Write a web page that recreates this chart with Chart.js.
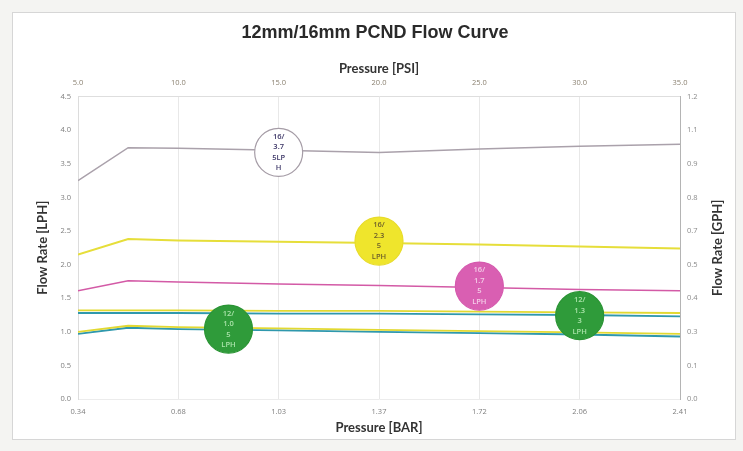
<!DOCTYPE html>
<html>
<head>
<meta charset="utf-8">
<script src="https://cdn.jsdelivr.net/npm/chart.js@4.4.1/dist/chart.umd.min.js"></script>
<style>
  body { margin: 0; background: #f4f4f2; }
  .frame { position: absolute; left: 12px; top: 12px; width: 724px; height: 428px; background: #fff; border: 1px solid #d6d6d6; box-sizing: border-box; }
  canvas { display: block; }
</style>
</head>
<body>
<div class="frame"><canvas id="flowChart" width="724" height="428"></canvas></div>
<script>
// pressure points (PSI) where the curves are measured
const PSI = [5, 7.5, 10, 15, 20, 25, 30, 35];
const BAR_TICKS = ['0.34', '0.68', '1.03', '1.37', '1.72', '2.06', '2.41'];
const GPH_TICKS = ['0.0', '0.1', '0.3', '0.4', '0.5', '0.7', '0.8', '0.9', '1.1', '1.2'];

// flow rate series (LPH)
const FLOW_16_375 = [3.25, 3.74, 3.73, 3.70, 3.67, 3.72, 3.76, 3.79];
const FLOW_16_235 = [2.15, 2.38, 2.36, 2.34, 2.32, 2.30, 2.27, 2.24];
const FLOW_16_175 = [1.61, 1.76, 1.74, 1.71, 1.69, 1.66, 1.63, 1.61];
const FLOW_13_Y   = [1.32, 1.32, 1.32, 1.31, 1.31, 1.30, 1.29, 1.28];
const FLOW_13_T   = [1.28, 1.28, 1.28, 1.27, 1.27, 1.26, 1.25, 1.23];
const FLOW_105_Y  = [1.00, 1.09, 1.07, 1.05, 1.03, 1.01, 0.99, 0.97];
const FLOW_105_T  = [0.97, 1.06, 1.04, 1.02, 1.00, 0.98, 0.96, 0.93];

// bubble labels on the curves
const TAG_PSI = [15, 20, 25, 30, 12.5];
const TAG_LPH = [3.67, 2.35, 1.68, 1.24, 1.04];
const TAG_TEXT = [
  ['16/', '3.7', '5LP', 'H'],
  ['16/', '2.3', '5', 'LPH'],
  ['16/', '1.7', '5', 'LPH'],
  ['12/', '1.3', '3', 'LPH'],
  ['12/', '1.0', '5', 'LPH']
];
const TAG_FILL = ['#ffffff', '#efe52c', '#d95fb2', '#2f9b3a', '#2f9b3a'];
const TAG_EDGE = ['#a59ca6', '#e8dc2a', '#d55aae', '#2a9434', '#2a9434'];
const TAG_INK  = ['#3b3566', '#6b5d2a', '#f4cde8', '#a9e3a9', '#a9e3a9'];

const pts = vals => PSI.map((p, i) => ({ x: p, y: vals[i] }));
const line = (label, vals, color, width) => ({
  type: 'line', label, data: pts(vals), borderColor: color, borderWidth: width,
  pointRadius: 0, tension: 0, fill: false, order: 1
});

const tagText = {
  id: 'tagText',
  afterDatasetsDraw(chart) {
    const meta = chart.getDatasetMeta(0);
    const ctx = chart.ctx;
    ctx.save();
    ctx.font = '600 7.5px "Open Sans", sans-serif';
    ctx.textAlign = 'center';
    ctx.textBaseline = 'middle';
    meta.data.forEach((pt, i) => {
      ctx.fillStyle = TAG_INK[i];
      const lines = TAG_TEXT[i];
      lines.forEach((t, k) => ctx.fillText(t, pt.x, pt.y + (k - (lines.length - 1) / 2) * 10.5));
    });
    // right axis title reads bottom-to-top like the left one
    const a = chart.chartArea;
    ctx.translate(a.right + 38, (a.top + a.bottom) / 2);
    ctx.rotate(-Math.PI / 2);
    ctx.font = 'bold 13px Lato, sans-serif';
    ctx.fillStyle = '#333';
    ctx.fillText('Flow Rate [GPH]', 0, 0);
    ctx.restore();
  }
};

const tickFont = { family: '"Open Sans", sans-serif', size: 7.5 };
const titleFont = { family: 'Lato, sans-serif', size: 13, weight: 'bold' };

new Chart(document.getElementById('flowChart'), {
  type: 'line',
  data: {
    datasets: [
      {
        type: 'scatter', label: 'tags',
        data: TAG_PSI.map((p, i) => ({ x: p, y: TAG_LPH[i] })),
        pointRadius: 24, pointBackgroundColor: TAG_FILL, pointBorderColor: TAG_EDGE,
        pointBorderWidth: 1.2, order: 0
      },
      line('16/3.75 LPH', FLOW_16_375, '#aaa1ab', 1.5),
      line('16/2.35 LPH', FLOW_16_235, '#e6de3a', 2),
      line('16/1.75 LPH', FLOW_16_175, '#d35aa6', 1.5),
      line('1.3 LPH a', FLOW_13_Y, '#e2d932', 1.8),
      line('1.3 LPH b', FLOW_13_T, '#2f98ad', 1.8),
      line('1.05 LPH a', FLOW_105_Y, '#e2d932', 1.8),
      line('1.05 LPH b', FLOW_105_T, '#2f98ad', 1.8)
    ]
  },
  options: {
    responsive: false,
    animation: false,
    layout: { padding: 0 },
    plugins: {
      legend: { display: false },
      tooltip: { enabled: false },
      title: {
        display: true, text: '12mm/16mm PCND Flow Curve', color: '#2a2a2a',
        font: { family: '"Liberation Sans", Arial, sans-serif', size: 18, weight: 'bold' },
        padding: { top: 9, bottom: 10 }
      }
    },
    scales: {
      x: {
        type: 'linear', position: 'bottom', min: 5, max: 35,
        afterFit: s => { s.height = 42; },
        ticks: { stepSize: 5, padding: 8, color: '#7d7d7d', font: tickFont, maxRotation: 0,
                 callback: (v, i) => BAR_TICKS[i] },
        grid: { color: '#e8e8e8', drawTicks: false },
        border: { color: '#ececec' },
        title: { display: true, text: 'Pressure [BAR]', color: '#333', font: titleFont, padding: { top: 0, bottom: 5 } }
      },
      xTop: {
        type: 'linear', position: 'top', min: 5, max: 35,
        afterFit: s => { s.height = 43; },
        ticks: { stepSize: 5, padding: 9, color: '#8a8070', font: tickFont, maxRotation: 0,
                 callback: v => v.toFixed(1) },
        grid: { display: false, drawTicks: false },
        border: { color: '#dedede' },
        title: { display: true, text: 'Pressure [PSI]', color: '#333', font: titleFont, padding: { top: 7, bottom: 0 } }
      },
      y: {
        position: 'left', min: 0, max: 4.5,
        afterFit: s => { s.width = 65; },
        ticks: { stepSize: 0.5, padding: 7, color: '#7d7d7d', font: tickFont, callback: v => v.toFixed(1) },
        grid: { display: false, drawTicks: false },
        border: { color: '#dcdcdc' },
        title: { display: true, text: 'Flow Rate [LPH]', color: '#333', font: titleFont, padding: { top: 22, bottom: 0 } }
      },
      yRight: {
        position: 'right', min: 0, max: 4.5,
        afterFit: s => { s.width = 57; },
        ticks: { stepSize: 0.5, padding: 7, color: '#8a8a8a', font: tickFont, callback: (v, i) => GPH_TICKS[i] },
        grid: { display: false, drawTicks: false },
        border: { color: '#b4b4b4' }
      }
    }
  },
  plugins: [tagText]
});
</script>
</body>
</html>
